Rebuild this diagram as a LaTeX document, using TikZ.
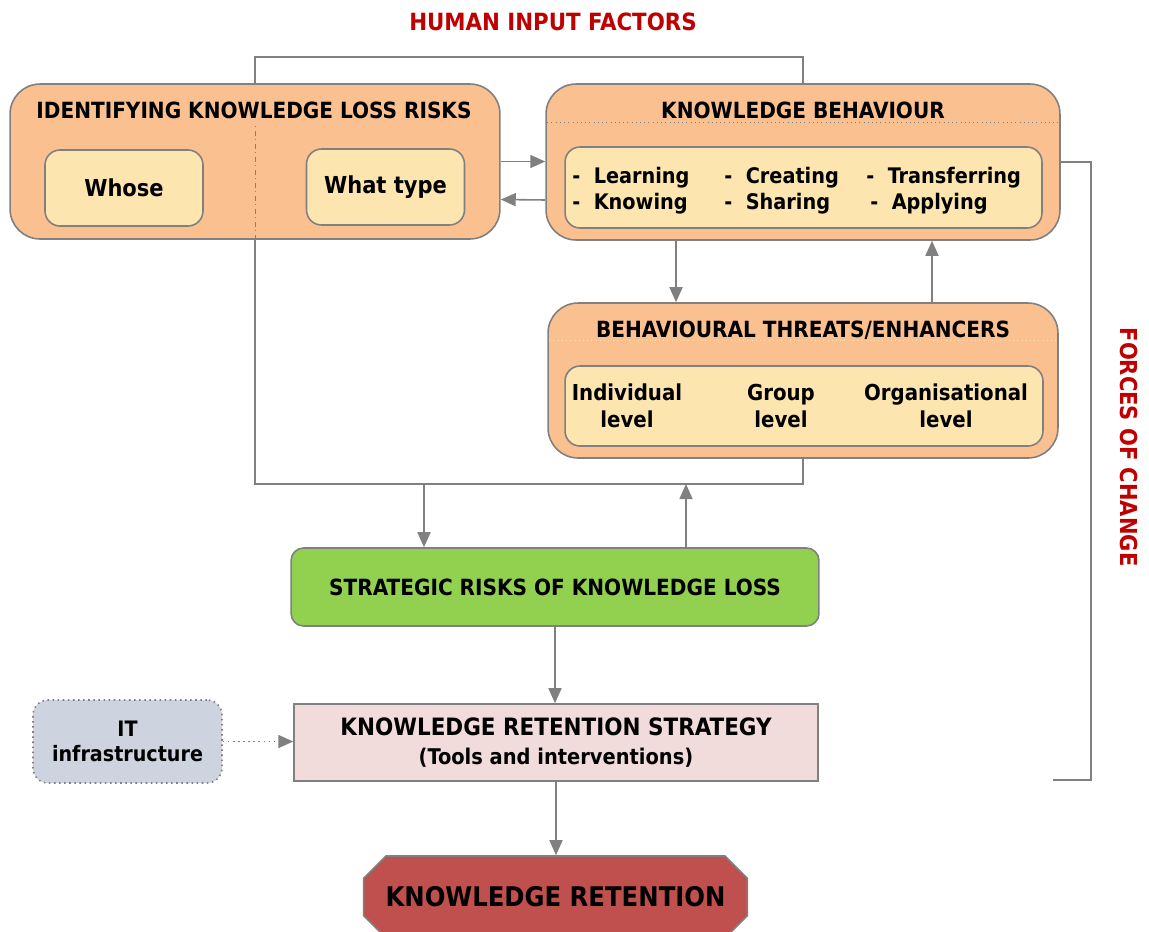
\documentclass[tikz,border=0pt]{standalone}
\usepackage{fontspec}
\setmainfont{DejaVu Sans Condensed}
\usetikzlibrary{positioning,arrows.meta,calc,shapes.misc}
\definecolor{linec}{HTML}{808080}
\definecolor{peach}{HTML}{FAC090}
\definecolor{cream}{HTML}{FCE5AE}
\definecolor{leaf}{HTML}{92D050}
\definecolor{blush}{HTML}{F2DCDB}
\definecolor{steel}{HTML}{CDD4E0}
\definecolor{brick}{HTML}{C0504D}
\definecolor{redc}{HTML}{C00000}

\begin{document}
\begin{tikzpicture}[
  x=0.02cm, y=-0.02cm,
  font=\bfseries\fontsize{12.7}{15}\selectfont,
  >={Triangle[length=3mm, width=2.6mm]},
  conn/.style={draw=linec, line width=0.9pt},
  arr/.style={conn, ->},
  outer/.style={draw=linec, line width=0.9pt, fill=peach, rounded corners=0.6cm, inner sep=0pt},
  inner/.style={draw=linec, line width=0.9pt, fill=cream, rounded corners=0.3cm, inner sep=0pt},
  head/.style={inner sep=0pt},
  item/.style={inner sep=0pt, anchor=base west, font=\bfseries\fontsize{12.2}{15}\selectfont},
  lvl/.style={inner sep=0pt, align=center, font=\bfseries\fontsize{12.5}{15.2}\selectfont},
  redtxt/.style={text=redc, inner sep=0pt, font=\bfseries\fontsize{13.5}{16}\selectfont},
]
\useasboundingbox (0,0) rectangle (1149,931);
% -- frame labels
\node[redtxt] (hif) at (553,22) {HUMAN INPUT FACTORS};
\node[redtxt, rotate=-90, font=\bfseries\fontsize{13.3}{16}\selectfont] (foc) at (1129,447) {FORCES OF CHANGE};
% -- identifying risks (top left)
\node[outer, minimum width=9.8cm, minimum height=3.1cm] (iklr) at (255,161.5) {};
\node[head] (iklrT) at (254,110) {IDENTIFYING KNOWLEDGE LOSS RISKS};
\node[inner, minimum width=3.16cm, minimum height=1.52cm, font=\bfseries\fontsize{13.3}{16}\selectfont] (whose) at (124,188) {Whose};
\node[inner, minimum width=3.16cm, minimum height=1.52cm, font=\bfseries\fontsize{13.3}{16}\selectfont] (wtype) at (385.5,187) {What type};
% -- knowledge behaviour (top right)
\node[outer, minimum width=10.28cm, minimum height=3.12cm] (kb) at (803,162) {};
\node[head] (kbT) at (803,110) {KNOWLEDGE BEHAVIOUR};
\node[inner, minimum width=9.54cm, minimum height=1.62cm] (kbin) at (803.5,187.5) {};
\node[item] (learn) at (572,183) {-~~Learning};
\node[item] (know) at (572,209) {-~~Knowing};
\node[item] (create) at (724,183) {-~~Creating};
\node[item] (share) at (724,209) {-~~Sharing};
\node[item] (transf) at (866,183) {-~~Transferring};
\node[item] (apply) at (870,209) {-~~Applying};
% -- threats / enhancers
\node[outer, minimum width=10.2cm, minimum height=3.1cm] (bt) at (803,380.5) {};
\node[head] (btT) at (803,330) {BEHAVIOURAL THREATS/ENHANCERS};
\node[inner, minimum width=9.56cm, minimum height=1.6cm] (btin) at (804,406) {};
\node[lvl] (indiv) at (627,406) {Individual\\level};
\node[lvl] (group) at (781,406) {Group\\level};
\node[lvl] (org) at (946,406) {Organisational\\level};
% -- lower column
\node[draw=linec, line width=0.9pt, fill=leaf, rounded corners=0.25cm, minimum width=10.56cm,
      minimum height=1.56cm] (strat) at (555,587) {STRATEGIC RISKS OF KNOWLEDGE LOSS};
\node[draw=linec, line width=0.9pt, fill=blush, minimum width=10.48cm, minimum height=1.54cm,
      align=center, font=\bfseries\fontsize{13.6}{16}\selectfont] (krs) at (556,742.5)
  {KNOWLEDGE RETENTION STRATEGY\\{\fontsize{12.3}{14}\selectfont(Tools and interventions)}};
\node[draw=linec, line width=0.9pt, dotted, fill=steel, rounded corners=0.3cm, minimum width=3.78cm,
      minimum height=1.66cm, align=center, font=\bfseries\fontsize{12.1}{14.5}\selectfont] (it) at (127.5,741.5)
  {IT\\infrastructure};
\node[draw=linec, line width=0.9pt, fill=brick, chamfered rectangle, chamfered rectangle xsep=0.54cm,
      minimum width=7.58cm, minimum height=1.64cm, font=\bfseries\fontsize{15.4}{18}\selectfont]
  (kr) at (555.5,897) {KNOWLEDGE RETENTION};
% -- inner separators
\draw[linec, thin, dash dot] (iklr.south) -- ++(0,-114);
\draw[linec, thin, dotted] ($(kb.north west)+(2,39)$) -- ($(kb.north east)+(-2,39)$);
\draw[cream, thin, dotted] ($(bt.north west)+(2,38)$) -- ($(bt.north east)+(-2,38)$);
% -- human input frame
\coordinate (hifTL) at (255,57);
\coordinate (hifTR) at (803,57);
\coordinate (hifBL) at (255,484);
\coordinate (hifBR) at (803,484);
\coordinate (hifA) at (424,484);
\coordinate (hifB) at (686,484);
\draw[conn] (iklr.north) -- (hifTL) -- (hifTR) -- (kb.north);
\draw[conn] (iklr.south) -- (hifBL) -- (hifBR) -- (bt.south);
% -- forces of change bracket
\coordinate (focC) at (1091,780);
\coordinate (focB) at (1053,780);
\draw[conn] (kb.east) -| (focC) -- (focB);
% -- flows
\draw[arr] (iklr.east) -- (iklr.east -| kb.west);
\draw[arr] ([yshift=-0.76cm]kb.west) -- ([yshift=-0.76cm]iklr.east);
\draw[arr] ([xshift=-2.54cm]kb.south) -- ([xshift=-2.54cm]bt.north);
\draw[arr] ([xshift=2.58cm]bt.north) -- ([xshift=2.58cm]kb.south);
\draw[arr] (hifA) -- (hifA |- strat.north);
\draw[arr] (hifB |- strat.north) -- (hifB);
\draw[arr] (strat.south) -- (strat.south |- krs.north);
\draw[arr, dotted] (it.east) -- (it.east -| krs.west);
\draw[arr] (krs.south) -- (krs.south |- kr.north);
\end{tikzpicture}
\end{document}
